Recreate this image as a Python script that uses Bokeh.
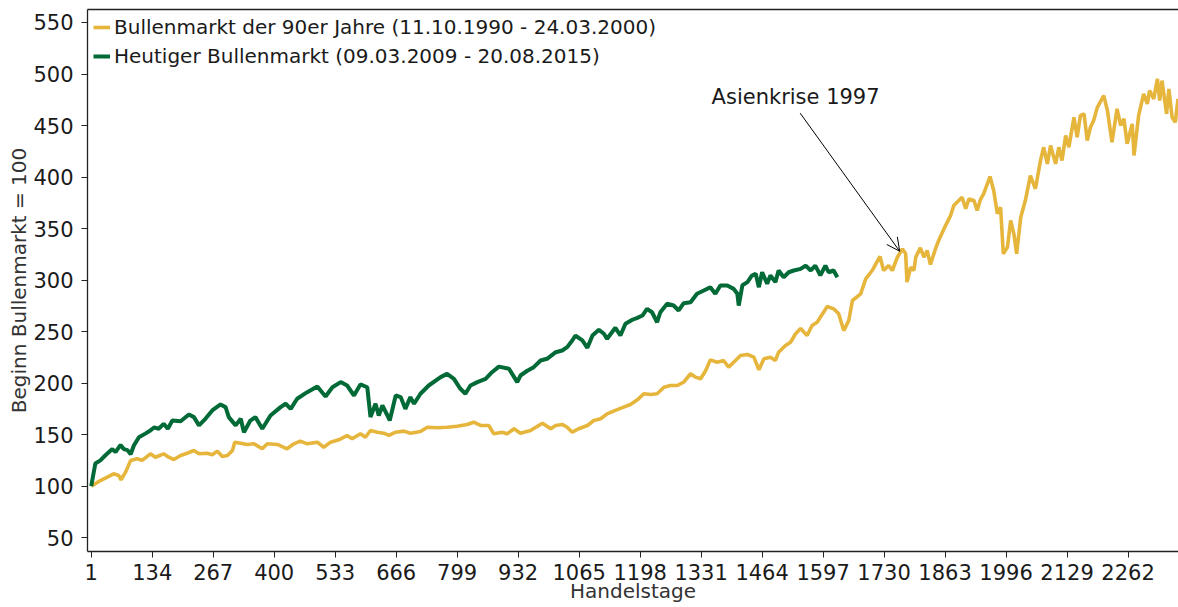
from bokeh.plotting import figure
from bokeh.models import Range1d, FixedTicker, Label, Arrow, OpenHead, LinearAxis
from bokeh.embed import file_html
from bokeh.resources import INLINE

# ---- data ----
x_ticks = [1, 134, 267, 400, 533, 666, 799, 932, 1065, 1198, 1331, 1464, 1597,
           1730, 1863, 1996, 2129, 2262]
y_ticks = [50, 100, 150, 200, 250, 300, 350, 400, 450, 500, 550]

label_90er = "Bullenmarkt der 90er Jahre (11.10.1990 - 24.03.2000)"
label_heute = "Heutiger Bullenmarkt (09.03.2009 - 20.08.2015)"

yellow_day = [1, 21, 36, 50, 61, 66, 76, 87, 101, 112,
              130, 141, 159, 170, 181, 196, 210, 225, 236, 254,
              265, 276, 287, 298, 309, 314, 327, 341, 356, 374,
              385, 407, 428, 443, 457, 472, 494, 508, 523, 541,
              559, 570, 588, 599, 610, 625, 639, 650, 665, 683,
              697, 719, 734, 756, 777, 799, 821, 835, 850, 868,
              879, 897, 908, 923, 937, 959, 985, 1003, 1014, 1028,
              1039, 1050, 1064, 1083, 1097, 1112, 1126, 1144, 1162, 1177,
              1192, 1206, 1221, 1235, 1250, 1264, 1279, 1293, 1308, 1319,
              1330, 1341, 1351, 1366, 1380, 1391, 1402, 1417, 1432, 1446,
              1457, 1468, 1482, 1493, 1500, 1515, 1526, 1537, 1548, 1562,
              1573, 1584, 1591, 1606, 1620, 1631, 1642, 1653, 1661, 1679,
              1690, 1704, 1721, 1729, 1740, 1748, 1759, 1770, 1777, 1780,
              1788, 1795, 1799, 1809, 1817, 1824, 1831, 1842, 1849, 1864,
              1875, 1882, 1900, 1908, 1915, 1926, 1933, 1940, 1947, 1961,
              1969, 1977, 1984, 1990, 1999, 2006, 2013, 2019, 2028, 2038,
              2049, 2060, 2071, 2078, 2086, 2093, 2104, 2111, 2118, 2126,
              2133, 2144, 2151, 2158, 2166, 2173, 2180, 2187, 2195, 2209,
              2217, 2227, 2238, 2246, 2253, 2260, 2271, 2275, 2285, 2296,
              2304, 2309, 2318, 2326, 2331, 2336, 2346, 2351, 2358, 2365,
              2371]
yellow_val = [100, 105.5, 108.7, 112, 110.4, 106.2, 113.6, 125, 126.6, 125,
              131.4, 128.1, 131.4, 128.1, 125.9, 129.8, 132, 134.6, 131.4, 132,
              130.5, 134, 128.8, 129.8, 134.6, 142.7, 141.7, 140.5, 141.1, 136.3,
              141.1, 140.5, 136.3, 141.1, 143.7, 141.1, 142.7, 137.8, 142.7, 145,
              149.2, 146, 150.8, 147.5, 154, 152.4, 151.4, 149.2, 152.4, 153.4,
              151.4, 153.1, 157.2, 156.7, 157.2, 158.2, 159.9, 162.1, 158.9, 158.9,
              150.8, 152.4, 150.8, 155.7, 151.4, 154, 161.1, 155.7, 158.9, 159.9,
              157.2, 152.4, 155.7, 158.9, 163.7, 165.4, 170.2, 173.5, 176.7, 179.3,
              183.8, 189.7, 189, 189.7, 196, 197.7, 197.7, 200.9, 209.1, 205.8,
              204.2, 212.3, 222.6, 220.3, 222, 215.5, 220.3, 226.8, 227.8, 225.2,
              213, 223.6, 225.2, 222, 230, 236.5, 239.7, 247.9, 253, 246.2,
              255.9, 259.1, 264, 274.4, 272.1, 267.3, 251, 260.8, 280.2, 286.7,
              301.2, 309.3, 322.9, 309.3, 314.1, 309.3, 322.2, 330.3, 325.5, 298,
              312.5, 309.3, 322.2, 331.3, 322.2, 328.7, 315.1, 330.3, 338.4, 352.9,
              362.7, 372.4, 380.4, 369.2, 378.8, 377.2, 367.5, 378, 383.7, 400.5,
              386.9, 364.3, 370.7, 325.5, 332, 357.8, 344.9, 325.5, 361, 377.2,
              401.4, 388.6, 416, 428.9, 412.8, 430.6, 412.8, 428.9, 416, 440.3,
              428.9, 458, 438.7, 459.6, 461.3, 435.4, 448.3, 454.8, 467.6, 479,
              464.5, 433.8, 466.2, 450, 456.5, 432.2, 451.6, 420.9, 459.6, 480.7,
              471, 484, 475.9, 495.3, 474.2, 493.6, 461.3, 485.6, 458, 453.2,
              475.9]

green_day = [1, 10, 21, 32, 47, 54, 65, 72, 80, 87,
             94, 105, 119, 130, 138, 148, 159, 168, 178, 196,
             214, 225, 236, 250, 265, 283, 294, 301, 316, 327,
             334, 348, 359, 374, 392, 414, 425, 436, 450, 472,
             494, 512, 527, 545, 559, 574, 588, 603, 610, 621,
             628, 636, 647, 652, 665, 676, 686, 697, 705, 719,
             737, 763, 777, 792, 806, 817, 828, 843, 861, 875,
             890, 912, 930, 937, 952, 966, 981, 995, 1014, 1028,
             1039, 1050, 1057, 1072, 1083, 1094, 1108, 1119, 1126, 1144,
             1155, 1166, 1181, 1192, 1203, 1213, 1224, 1235, 1242, 1257,
             1271, 1282, 1293, 1308, 1322, 1337, 1351, 1362, 1373, 1388,
             1402, 1410, 1413, 1421, 1432, 1442, 1450, 1457, 1464, 1475,
             1482, 1493, 1500, 1511, 1522, 1533, 1548, 1559, 1570, 1580,
             1591, 1602, 1609, 1620, 1628]
green_val = [100, 122, 125, 130, 136, 133, 140, 136, 135, 131,
             139.5, 147.5, 151, 154, 157, 155.7, 160.5, 155.7, 163.7, 163,
             169.6, 167, 159, 165.4, 173.5, 179.3, 176.7, 167, 159, 165.4,
             152.4, 163.7, 167, 155.7, 168.6, 176.7, 180, 175, 184.8, 191.2,
             196.7, 187, 196, 201, 197.7, 188, 198.7, 196, 167, 180,
             168.6, 178.3, 168.6, 163.7, 188, 186.4, 175, 186.4, 180, 189.7,
             197.7, 205.8, 209, 204.2, 194.5, 189.7, 197.7, 201, 204.2, 210.6,
             216, 214, 201, 207.4, 212, 215.5, 222, 223.6, 230, 231.7,
             234.9, 241.4, 246.2, 241.4, 234.3, 246.2, 251.8, 247.9, 243, 253.7,
             246.2, 257.6, 261.5, 263.4, 265.6, 272, 268.8, 259.1, 268.8, 277,
             275.3, 270.5, 277.6, 278.5, 286.7, 289.9, 293.1, 286.7, 294.7, 294.7,
             291.5, 286.7, 275.3, 295, 298, 304.5, 306.1, 293.1, 307.6, 296.4,
             304.5, 298, 309.3, 302.8, 307.6, 309.3, 310.9, 314.1, 309.3, 314.1,
             304.5, 314.1, 307.6, 309.3, 302.8]

# ---- styling ----
FONT = "DejaVu Sans"
YELLOW = "#E6B53C"
GREEN = "#016A36"
TXT = "#1a1a1a"

p = figure(width=1178, height=607, output_backend="svg", toolbar_location=None,
           x_range=Range1d(-7.1, 2372), y_range=Range1d(36.6, 562.6),
           min_border_left=87, min_border_right=0, min_border_top=9,
           min_border_bottom=56)
p.outline_line_color = None
p.grid.visible = False
p.background_fill_color = "white"
p.border_fill_color = "white"

p.line(yellow_day, yellow_val, line_color=YELLOW, line_width=3.6,
       legend_label=label_90er)
p.line(green_day, green_val, line_color=GREEN, line_width=4,
       legend_label=label_heute)

for ax in (p.xaxis[0], p.yaxis[0]):
    ax.axis_line_color = "#222222"
    ax.axis_line_width = 1.3
    ax.major_tick_line_color = "#222222"
    ax.major_tick_in = 0
    ax.major_tick_out = 6
    ax.minor_tick_line_color = None
    ax.major_label_text_font = FONT
    ax.major_label_text_font_size = "21px"
    ax.major_label_text_color = TXT
    ax.axis_label_text_font = FONT
    ax.axis_label_text_font_size = "20px"
    ax.axis_label_text_font_style = "normal"
    ax.axis_label_text_color = "#333333"

p.xaxis.ticker = FixedTicker(ticks=x_ticks)
p.yaxis.ticker = FixedTicker(ticks=y_ticks)
p.xaxis.major_label_standoff = 6
p.yaxis.major_label_standoff = 8

p.yaxis.axis_label = "Beginn Bullenmarkt = 100"
p.yaxis.axis_label_standoff = -1
p.xaxis.axis_label = "Handelstage"
p.xaxis.axis_label_standoff = -4

top_axis = LinearAxis(ticker=FixedTicker(ticks=[]), major_tick_out=0,
                      major_tick_in=0, minor_tick_out=0, minor_tick_in=0,
                      major_label_standoff=0, major_label_text_font_size="0px",
                      axis_line_color="#222222", axis_line_width=1.3)
p.add_layout(top_axis, "above")

# annotation
p.add_layout(Label(x=1537, y=478, text="Asienkrise 1997", text_align="center",
                   text_baseline="alphabetic", text_font=FONT,
                   text_font_size="21px", text_color=TXT))
p.add_layout(Arrow(end=OpenHead(size=13, line_width=1, line_color="black"),
                   x_start=1547, y_start=462, x_end=1764, y_end=328,
                   line_width=1, line_color="black"))

lg = p.legend[0]
lg.location = "top_left"
lg.margin = 6
lg.padding = 7
lg.spacing = 5
lg.label_standoff = 4
lg.glyph_width = 17
lg.glyph_height = 18
lg.label_height = 18
lg.label_text_font = FONT
lg.label_text_font_size = "20px"
lg.label_text_color = TXT
lg.background_fill_alpha = 0
lg.border_line_color = None

open("out.html", "w").write(file_html(p, INLINE))
